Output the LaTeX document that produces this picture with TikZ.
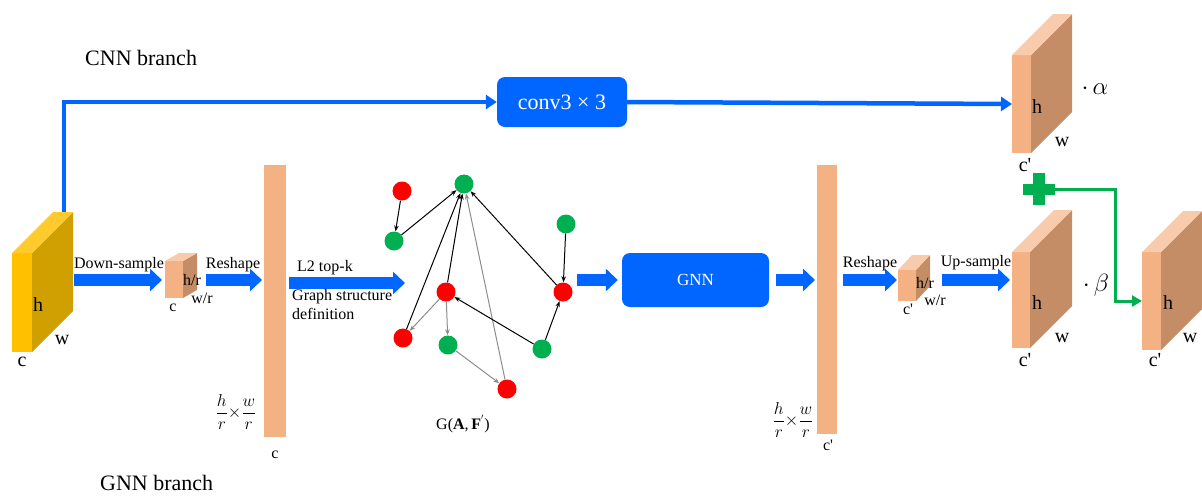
\documentclass[tikz,border=0pt]{standalone}
\usepackage{amsmath}
\usepackage{fontspec}
\setmainfont{Liberation Serif}
\usetikzlibrary{arrows.meta,calc}

\definecolor{yfront}{HTML}{FFC000}
\definecolor{yside}{HTML}{D09F00}
\definecolor{ytop}{HTML}{FFCA2C}
\definecolor{sfront}{HTML}{F4B183}
\definecolor{sside}{HTML}{C58D66}
\definecolor{stop}{HTML}{F8CBAD}
\definecolor{flowblue}{HTML}{0066FF}
\definecolor{plusgreen}{HTML}{00B050}
\definecolor{nodered}{HTML}{FF0000}
\definecolor{nodegreen}{HTML}{00B050}
\definecolor{edgegray}{HTML}{8C8C8C}

% feature-map block: name, x, y (top-left of front face), width, height, depth dx, depth dy, colour scheme
\newcommand\cubeshape[8]{%
  \node[inner sep=0pt, outer sep=0pt, minimum width=#4pt, minimum height=#5pt,
        anchor=north west, fill=#8front] (#1) at (#2,#3) {};
  \fill[#8side] (#1.north east) -- ++(#6,-#7) -- ++(0,#5) -- (#1.south east) -- cycle;
  \fill[#8top] (#1.north west) -- ++(#6,-#7) -- ++(#4,0) -- (#1.north east) -- cycle;
  \coordinate (#1-b) at ($(#1.north east)+(#6,-#7)$);
}

\tikzset{
  lbl/.style={inner sep=0pt, font=\fontsize{16}{19}\selectfont},
  biglbl/.style={inner sep=0pt, font=\fontsize{20}{24}\selectfont},
  mathlbl/.style={inner sep=0pt, font=\fontsize{23}{27}\selectfont},
  fraclbl/.style={inner sep=0pt, font=\fontsize{17.5}{21}\selectfont},
  titlelbl/.style={inner sep=0pt, anchor=west, font=\fontsize{22}{26}\selectfont},
  fat/.style={draw=flowblue, line width=12pt, -{Triangle[length=12pt,width=22pt]}},
  thinblue/.style={draw=flowblue, line width=4.5pt, -{Triangle[length=11pt,width=14pt]}},
  greenlink/.style={draw=plusgreen, line width=3pt, -{Triangle[length=10pt,width=11pt]}},
  bluebox/.style={fill=flowblue, rounded corners=8pt, text=white, inner sep=0pt},
  gnode/.style={circle, fill=#1, minimum size=19pt, inner sep=0pt},
  bedge/.style={draw=black, line width=1pt, -{Stealth[length=6pt,width=4.5pt]}},
  gedge/.style={draw=edgegray, line width=1pt, -{Stealth[length=6pt,width=4.5pt]}},
  bar/.style={fill=sfront, inner sep=0pt, anchor=north west}
}

\begin{document}
\begin{tikzpicture}[x=1pt, y=-1pt]
\useasboundingbox (0,0) rectangle (1202,496);

% branch titles
\node[titlelbl] (cnnT) at (85,58) {CNN branch};
\node[titlelbl] (gnnT) at (100,483) {GNN branch};

% feature-map blocks
\cubeshape{yc}{12}{253}{20}{99}{41}{41}{y}
\cubeshape{c1}{165}{261}{18}{37}{14}{8}{s}
\cubeshape{c2}{898}{270}{18}{31}{14}{15}{s}
\cubeshape{cc}{1012}{55}{19}{98}{41}{41}{s}
\cubeshape{cg}{1012}{252}{18}{96}{42}{42}{s}
\cubeshape{cf}{1142}{252}{19}{98}{41}{41}{s}

% flattened features
\node[bar, minimum width=22pt, minimum height=272pt] (bar1) at (264,165) {};
\node[bar, minimum width=20pt, minimum height=269pt] (bar2) at (817,165) {};

% block labels
\node[biglbl] (ych) at (38,305) {h};
\node[biglbl] (ycw) at (62,340) {w};
\node[biglbl] (ycc) at (22,362) {c};
\node[lbl] (c1h) at (192,280) {h/r};
\node[lbl] (c1w) at (202,298) {w/r};
\node[lbl] (c1c) at (173,308) {c};
\node[lbl] (c2h) at (925,283) {h/r};
\node[lbl] (c2w) at (935,300) {w/r};
\node[lbl] (c2c) at (908,309) {c\textquotesingle};
\node[biglbl] (cch) at (1037,107) {h};
\node[biglbl] (ccw) at (1062,142) {w};
\node[biglbl] (ccc) at (1025,165) {c\textquotesingle};
\node[biglbl] (cgh) at (1037,303) {h};
\node[biglbl] (cgw) at (1062,338) {w};
\node[biglbl] (cgc) at (1025,360) {c\textquotesingle};
\node[biglbl] (cfh) at (1168,303) {h};
\node[biglbl] (cfw) at (1190,338) {w};
\node[biglbl] (cfc) at (1155,360) {c\textquotesingle};
\node[lbl] (b1c) at (275,455) {c};
\node[lbl] (b2c) at (828,445) {c\textquotesingle};
\node[fraclbl] (b1f) at (236,412) {$\dfrac{h}{r}{\times}\dfrac{w}{r}$};
\node[fraclbl] (b2f) at (793,420) {$\dfrac{h}{r}{\times}\dfrac{w}{r}$};
\node[mathlbl] (alph) at (1095,89) {$\cdot\,\alpha$};
\node[mathlbl] (bet) at (1096,285) {$\cdot\,\beta$};

% CNN branch
\node[bluebox, minimum width=130pt, minimum height=50pt,
      font=\fontsize{22}{26}\selectfont] (conv) at (562,102) {conv3 × 3};
\coordinate (ycTop) at (64,212);
\draw[thinblue] (ycTop) |- (conv.west);
\draw[thinblue] (conv.east) -- (cc.west);

% GNN branch
\coordinate (mid) at (0,280);
\node[bluebox, minimum width=147pt, minimum height=54pt,
      font=\fontsize{17}{20}\selectfont] (gnn) at (695.5,280) {GNN};

% graph
\node[gnode=nodered]   (r1) at (402,191) {};
\node[gnode=nodegreen] (g1) at (464,184) {};
\node[gnode=nodegreen] (g2) at (394,241) {};
\node[gnode=nodegreen] (g3) at (566,224) {};
\node[gnode=nodered]   (r2) at (446,292) {};
\node[gnode=nodered]   (r3) at (563,292) {};
\node[gnode=nodered]   (r4) at (403,338) {};
\node[gnode=nodegreen] (g4) at (448,345) {};
\node[gnode=nodegreen] (g5) at (542,349) {};
\node[gnode=nodered]   (r5) at (507,389) {};
\draw[gedge] (r5) -- (g1);
\draw[bedge] (r1) -- (g2);
\draw[bedge] (g2) -- (g1);
\draw[bedge] (r2) -- (g1);
\draw[bedge] (r4) -- (g1);
\draw[bedge] (r3) -- (g1);
\draw[bedge] (g3) -- (r3);
\draw[bedge] (g5) -- (r3);
\draw[bedge] (g5) -- (r2);
\draw[gedge] (r2) -- (r4);
\draw[gedge] (r2) -- (g4);
\draw[gedge] (g4) -- (r5);
\node[lbl] (glbl) at (463,424) {G(\textbf{A},\,\textbf{F}$^{'}$)};

% block arrows along the GNN branch
\coordinate (graphIn) at (405,283);
\draw[fat, shorten <=1pt, shorten >=3pt] (yc-b |- mid) -- (c1.west |- mid);
\draw[fat, shorten <=9pt, shorten >=2pt] (c1-b |- mid) -- (bar1.west |- mid);
\draw[fat, shorten <=3pt] (bar1.east |- graphIn) -- (graphIn);
\draw[fat, shorten <=4.5pt, shorten >=4pt] (r3.east |- mid) -- (gnn.west);
\draw[fat, shorten <=7pt, shorten >=2pt] (gnn.east) -- (bar2.west |- mid);
\draw[fat, shorten <=6pt, shorten >=1pt] (bar2.east |- mid) -- (c2.west |- mid);
\draw[fat, shorten <=12pt, shorten >=2pt] (c2-b |- mid) -- (cg.west |- mid);

\node[lbl] (tDown) at (119,265) {Down-sample};
\node[lbl] (tRes1) at (233,265) {Reshape};
\node[lbl, anchor=west] (tL2) at (297,268) {L2 top-k};
\node[lbl, anchor=north west, align=left] (tGraph) at (292,289) {Graph structure\\definition};
\node[lbl] (tRes2) at (870,264) {Reshape};
\node[lbl] (tUp) at (976,263) {Up-sample};

% fusion
\node[inner sep=0pt, minimum size=32pt] (plus) at (1039,189) {};
\fill[plusgreen] ($(plus)+(-16,-5.5)$) rectangle ($(plus)+(16,5.5)$);
\fill[plusgreen] ($(plus)+(-6,-16)$) rectangle ($(plus)+(6,16)$);
\coordinate (turn) at (1115,189);
\draw[greenlink] (plus.east) -- (turn) |- (cf.west);
\end{tikzpicture}
\end{document}
